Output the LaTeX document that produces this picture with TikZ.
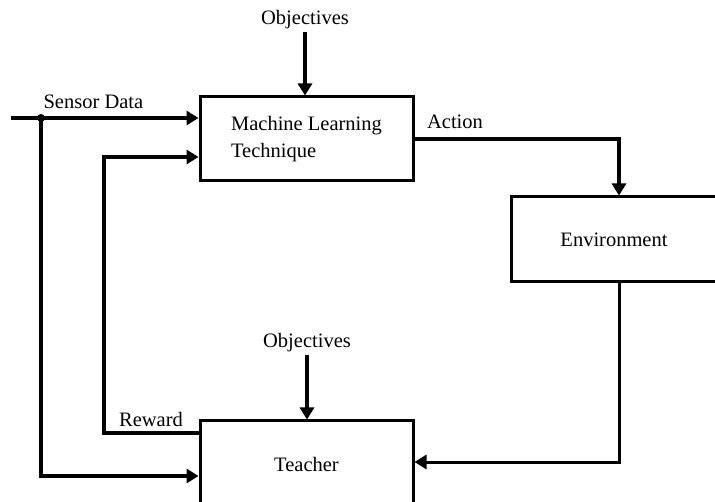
\documentclass[tikz,border=0pt]{standalone}
\usepackage{fontspec}
\setmainfont{Liberation Serif}
\usetikzlibrary{arrows.meta, positioning}

\begin{document}
\begin{tikzpicture}[x=1pt,y=-1pt,->,>={Triangle[length=12pt,width=14pt]},line width=3.2pt,
                    font=\fontsize{20.5}{27}\selectfont,
                    box/.style={draw,line width=3pt,inner sep=0pt,minimum width=213pt},
                    lbl/.style={inner sep=1pt}]
                    \useasboundingbox (0,0) rectangle (715,502);
                    \node[box, minimum height=84pt, align=left] (ml) at (306.5,139) {Machine Learning\\Technique};
                    \node[box, minimum height=85pt, minimum width=206pt] (env) at (614,239.5) {Environment};
                    \node[box, minimum height=86pt] (teacher) at (306.5,464) {Teacher};
                    \node[lbl] (obj1) at (305,20) {Objectives};
                    \node[lbl] (obj2) at (307,343) {Objectives};
                    \coordinate (in) at (11,118);
                    \coordinate (split) at (41,118);
                    \coordinate (rew) at (104,433);
                    \coordinate (act) at (619,139);
                    % inputs
                    \draw (in) -- (ml.west |- in);
                    \fill (split) circle (4pt);
                    \node[lbl, anchor=south west] (sd) at ([xshift=0pt,yshift=7pt]split) {Sensor Data};
                    \draw (split) |- ([yshift=-12pt]teacher.west);
                    \draw (teacher.west |- rew) -- (rew) |- ([yshift=-18pt]ml.west);
                    \node[lbl, anchor=south east] (rw) at ([xshift=-13pt,yshift=4pt]teacher.west |- rew) {Reward};
                    \draw (obj1) -- (obj1 |- ml.north);
                    \draw (obj2) -- (obj2 |- teacher.north);
                    % action and feedback
                    \draw (ml.east) -| (act |- env.north);
                    \node[lbl, anchor=south west] (ac) at ([xshift=10pt,yshift=8pt]ml.east) {Action};
                    \draw[line width=3pt] (act |- env.south) |- ([yshift=2pt]teacher.east);
\end{tikzpicture}
\end{document}
